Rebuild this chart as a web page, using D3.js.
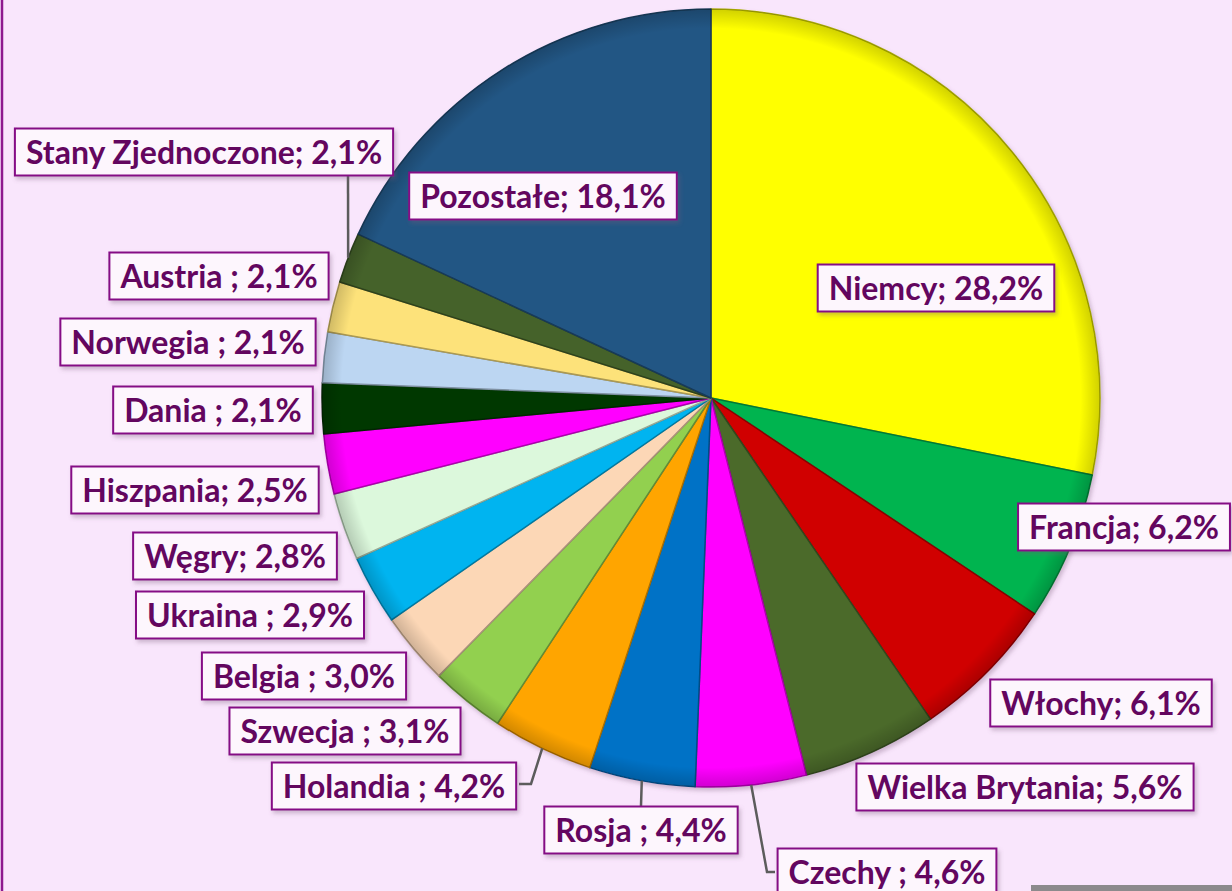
<!DOCTYPE html>
<html>
<head>
<meta charset="utf-8">
<script src="https://cdn.jsdelivr.net/npm/d3@7"></script>
<style>
  html, body { margin: 0; padding: 0; background: #f9e6fc; }
  svg { display: block; }
</style>
</head>
<body>
<div id="chart"></div>
<script>
// countries clockwise from 12 o'clock, share in %
const categories = [
  "Niemcy", "Francja", "Włochy", "Wielka Brytania", "Czechy ", "Rosja ",
  "Holandia ", "Szwecja ", "Belgia ", "Ukraina ", "Węgry", "Hiszpania",
  "Dania ", "Norwegia ", "Austria ", "Stany Zjednoczone", "Pozostałe"
];
const values = [28.2, 6.2, 6.1, 5.6, 4.6, 4.4, 4.2, 3.1, 3.0, 2.9, 2.8, 2.5, 2.1, 2.1, 2.1, 2.1, 18.1];
const colors = [
  "#ffff00", "#00b450", "#d00000", "#4b6a2c", "#ff00ff", "#0072c6",
  "#ffa500", "#92d050", "#fcd7b6", "#00b4f0", "#dcf8dc", "#ff00ff",
  "#043804", "#bcd6f2", "#fde27a", "#44622a", "#245684"
];

// label box centres (layout only)
const labelPos = [
  [936, 288], [1124, 527], [1101, 703], [1025, 787], [887, 872], [641, 830],
  [394, 786], [345, 731], [304, 676], [250, 615], [235, 556], [195, 490],
  [213, 410], [188, 342], [219, 276], [204, 152], [543, 196]
];
// leader lines: extra bend points after the slice edge
const leaders = {
  4: [[767, 872], [775, 872]],
  5: [[641, 806]],
  6: [[531, 784], [519, 784]],
  15: [[348, 176]]
};

const width = 1232;
const height = 891;
const cx = 711, cy = 398, radius = 389;

const svg = d3.select("#chart").append("svg")
  .attr("width", width)
  .attr("height", height);

const defs = svg.append("defs");
defs.append("filter").attr("id", "shadow")
  .attr("x", "-10%").attr("y", "-10%").attr("width", "130%").attr("height", "140%")
  .append("feDropShadow")
  .attr("dx", 2).attr("dy", 3).attr("stdDeviation", 2)
  .attr("flood-color", "#7a5a7a").attr("flood-opacity", 0.35);

const edge = defs.append("radialGradient").attr("id", "bevel")
  .attr("gradientUnits", "userSpaceOnUse")
  .attr("cx", cx).attr("cy", cy).attr("r", radius);
edge.append("stop").attr("offset", "0%").attr("stop-color", "#000").attr("stop-opacity", 0);
edge.append("stop").attr("offset", "95%").attr("stop-color", "#000").attr("stop-opacity", 0);
edge.append("stop").attr("offset", "100%").attr("stop-color", "#000").attr("stop-opacity", 0.18);

svg.append("rect")
  .attr("width", width).attr("height", height)
  .attr("fill", "#f9e6fc");

// left frame line
svg.append("line")
  .attr("x1", 2).attr("x2", 2).attr("y1", 0).attr("y2", height)
  .attr("stroke", "#8e1a8e").attr("stroke-width", 2.5);

// grey strip in the bottom right corner
svg.append("rect")
  .attr("x", 1031).attr("y", 885).attr("width", 201).attr("height", 6)
  .attr("fill", "#8c8a8c");

const pie = d3.pie().sort(null).value(d => d);
const arcs = pie(values);
const arc = d3.arc().innerRadius(0).outerRadius(radius);

const g = svg.append("g").attr("transform", `translate(${cx},${cy})`);

g.append("g")
  .attr("filter", "url(#shadow)")
  .selectAll("path")
  .data(arcs)
  .join("path")
  .attr("d", arc)
  .attr("fill", (d, i) => colors[i])
  .attr("stroke", (d, i) => d3.color(colors[i]).darker(1.1))
  .attr("stroke-width", 1.5)
  .attr("stroke-linejoin", "round");

g.append("circle")
  .attr("r", radius)
  .attr("fill", "url(#bevel)")
  .attr("transform", `translate(${-cx},${-cy})`)
  .attr("cx", cx).attr("cy", cy);

// leader lines
const edgePoint = d => {
  const a = (d.startAngle + d.endAngle) / 2;
  return [cx + radius * Math.sin(a), cy - radius * Math.cos(a)];
};
const lineGen = d3.line();
Object.keys(leaders).forEach(k => {
  const i = +k;
  const pts = [edgePoint(arcs[i])].concat(leaders[k]);
  svg.append("path")
    .attr("d", lineGen(pts))
    .attr("fill", "none")
    .attr("stroke", "#5c5c5c")
    .attr("stroke-width", 2.5);
});

// labels
const fmt = v => d3.format(".1f")(v).replace(".", ",");
const labels = svg.append("g")
  .selectAll("g")
  .data(arcs)
  .join("g")
  .attr("transform", (d, i) => `translate(${labelPos[i][0]},${labelPos[i][1]})`);

const box = labels.append("rect")
  .attr("fill", "#fdf6fd")
  .attr("stroke", "#850a85")
  .attr("stroke-width", 2)
  .attr("filter", "url(#shadow)");

const txt = labels.append("text")
  .text((d, i) => `${categories[i]}; ${fmt(values[i])}%`)
  .attr("text-anchor", "middle")
  .attr("dy", "0.36em")
  .attr("font-family", "Lato, 'Noto Sans', sans-serif")
  .attr("font-weight", "bold")
  .attr("font-size", "32px")
  .attr("fill", "#63065f");

txt.each(function (d, i) {
  const w = this.getComputedTextLength() + 22;
  d3.select(this.parentNode).select("rect")
    .attr("x", -w / 2).attr("y", -23.5)
    .attr("width", w).attr("height", 47);
});
</script>
</body>
</html>
